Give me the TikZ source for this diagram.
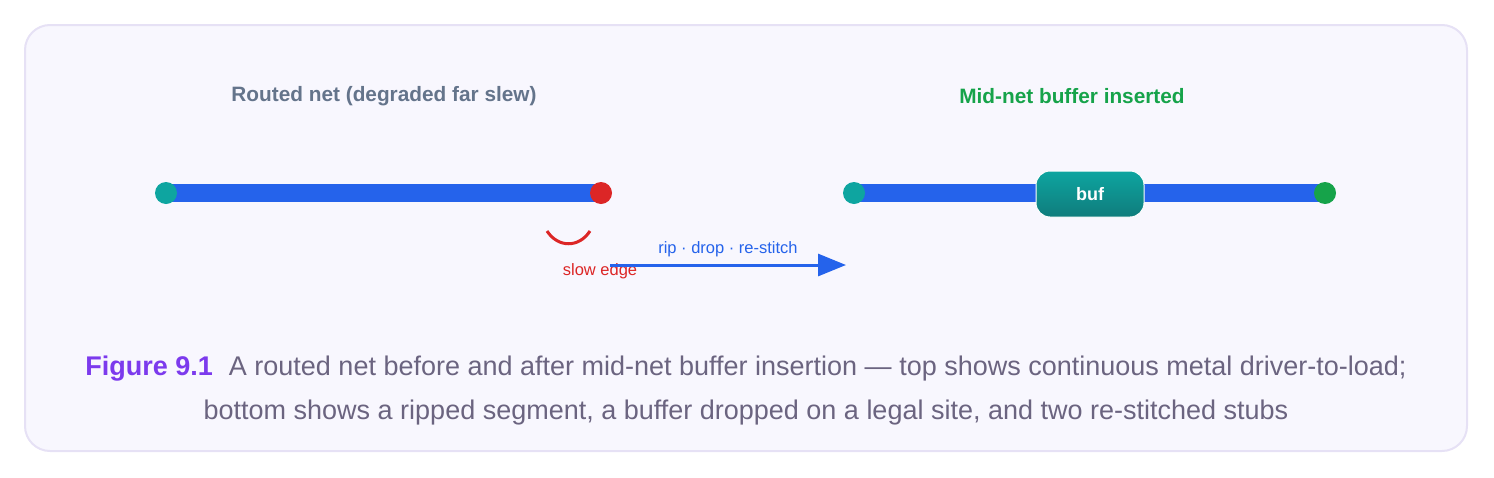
\documentclass[tikz,border=0pt]{standalone}
\usepackage{fontspec}
\setmainfont{Liberation Sans}
\usetikzlibrary{arrows.meta}
\definecolor{panelbg}{HTML}{F8F7FE}
\definecolor{panelline}{HTML}{E6E1F5}
\definecolor{wire}{HTML}{2563EB}
\definecolor{teal}{HTML}{0EA5A0}
\definecolor{tealdark}{HTML}{0F7C7C}
\definecolor{redpin}{HTML}{DC2626}
\definecolor{greenpin}{HTML}{16A34A}
\definecolor{titlegray}{HTML}{64748B}
\definecolor{capgray}{HTML}{6B6480}
\definecolor{figpurple}{HTML}{7C3AED}
\tikzset{
  wireline/.style={draw=wire, line width=18pt},
  pin/.style={circle, minimum size=22pt, inner sep=0pt},
  title/.style={font=\bfseries\fontsize{20.8}{24}\selectfont},
  small/.style={font=\fontsize{16.5}{19}\selectfont},
}
\begin{document}
\begin{tikzpicture}[x=1pt,y=-1pt]
\useasboundingbox (0,0) rectangle (1494,477);
\draw[panelline, fill=panelbg, line width=2pt, rounded corners=25pt] (25,25) rectangle (1467,451);
% titles
\node[title, text=titlegray] (t1) at (384,96) {Routed net (degraded far slew)};
\node[title, text=greenpin] (t2) at (1072,96) {Mid-net buffer inserted};
% left net
\coordinate (d1) at (166,193);
\coordinate (l1) at (601,193);
\draw[wireline] (d1) -- (l1);
\node[pin, fill=teal] (d1n) at (d1) {};
\node[pin, fill=redpin] (l1n) at (l1) {};
% right net
\coordinate (d2) at (854,193);
\coordinate (l2) at (1325,193);
\draw[wireline] (d2) -- (l2);
\node[pin, fill=teal] (d2n) at (d2) {};
\node[pin, fill=greenpin] (l2n) at (l2) {};
\node[draw=white, line width=1pt, rounded corners=14pt, top color=teal, bottom color=tealdark,
  minimum width=108pt, minimum height=46pt, inner sep=0pt, text=white,
  font=\bfseries\fontsize{18}{20}\selectfont] (buf) at (1090,194) {\raisebox{-1pt}{buf}};
% slow edge
\coordinate (s1) at (547,231);
\coordinate (s2) at (590,231);
\draw[redpin, line width=3pt] (s1) .. controls (558,248) and (579,248) .. (s2);
\node[small, text=redpin] (slow) at (600,271) {slow edge};
% arrow
\coordinate (a1) at (610,265);
\coordinate (a2) at (846,265);
\draw[wire, line width=3pt, -{Triangle[length=28pt,width=22pt]}] (a1) -- (a2);
\node[small, text=wire] (rip) at (728,249) {rip · drop · re-stitch};
% caption
\node[font=\fontsize{27}{32}\selectfont, text=capgray] (cap1) at (746,369)
  {\textcolor{figpurple}{\bfseries Figure 9.1}\hspace{16pt}A routed net before and after mid-net buffer insertion — top shows continuous metal driver-to-load;};
\node[font=\fontsize{27}{32}\selectfont, text=capgray] (cap2) at (746,413)
  {bottom shows a ripped segment, a buffer dropped on a legal site, and two re-stitched stubs};
\end{tikzpicture}
\end{document}
